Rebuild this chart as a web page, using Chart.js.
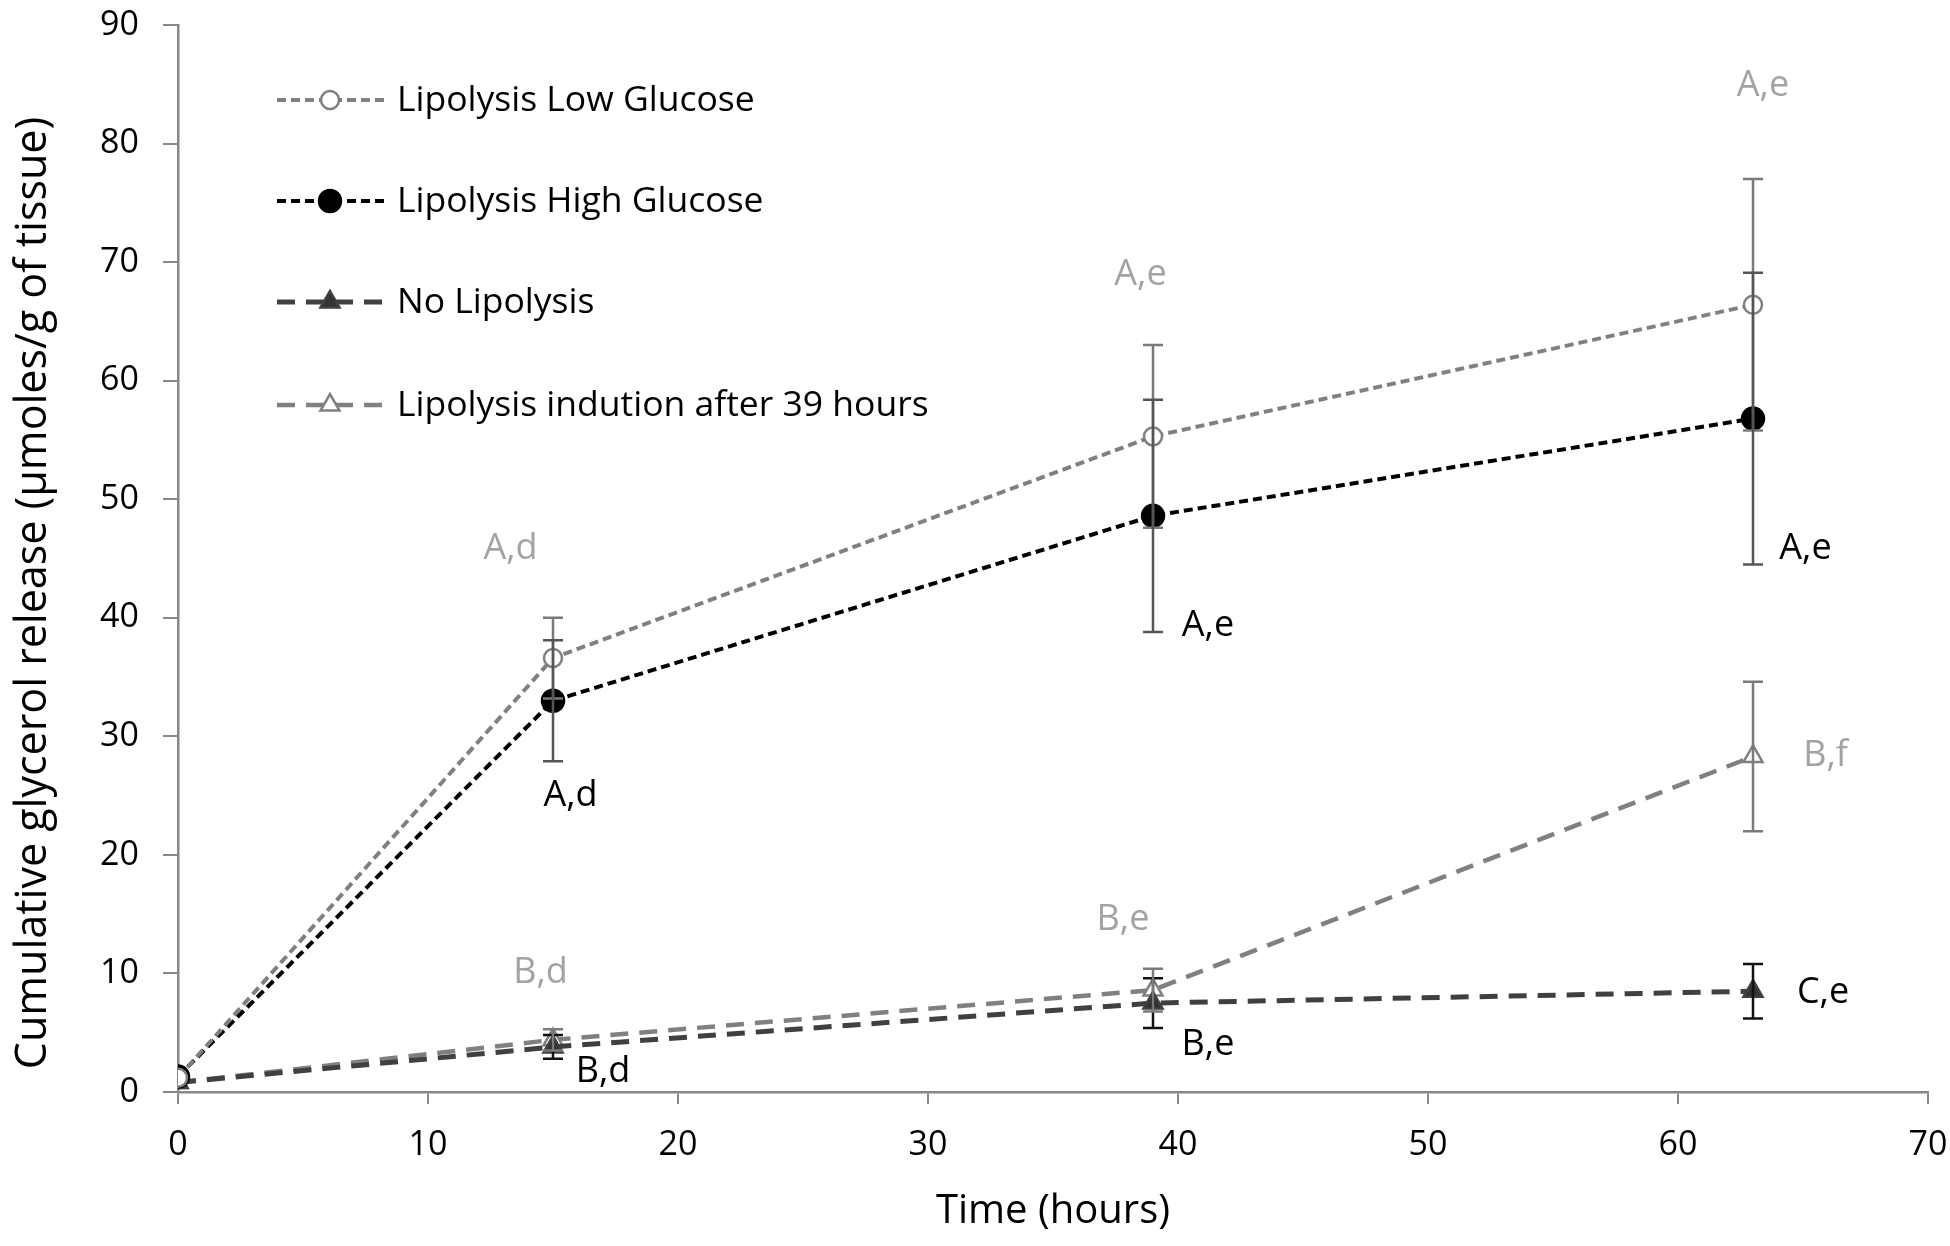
<!DOCTYPE html>
<html>
<head>
<meta charset="utf-8">
<script src="https://cdn.jsdelivr.net/npm/chart.js@4.4.1/dist/chart.umd.min.js"></script>
<style>
  html, body { margin: 0; background: #fff; }
  #wrap { width: 1950px; height: 1246px; }
</style>
</head>
<body>
<div id="wrap"><canvas id="chart"></canvas></div>
<script>
// time points (hours)
const hours = [0, 15, 39, 63];

// cumulative glycerol release, µmoles/g of tissue
const lowGlucose = [1.2, 36.6, 55.3, 66.4];
const lowGlucoseErr = [0, 3.4, 7.7, 10.6];
const highGlucose = [1.3, 33.0, 48.6, 56.8];
const highGlucoseErr = [0, 5.1, 9.8, 12.3];
const noLipolysis = [0.8, 3.8, 7.5, 8.5];
const noLipolysisErr = [0, 1.0, 2.1, 2.3];
const induction39 = [0.8, 4.4, 8.6, 28.3];
const induction39Err = [0, 0.9, 1.8, 6.3];

// significance letters and where they sit (hours, value)
const lowGlucoseTags = ['', 'A,d', 'A,e', 'A,e'];
const lowGlucoseTagAt = [null, [13.3, 45.8], [38.5, 68.9], [63.4, 84.9]];
const highGlucoseTags = ['', 'A,d', 'A,e', 'A,e'];
const highGlucoseTagAt = [null, [15.7, 25.0], [41.2, 39.3], [65.1, 45.8]];
const noLipolysisTags = ['', 'B,d', 'B,e', 'C,e'];
const noLipolysisTagAt = [null, [17.0, 1.7], [41.2, 4.0], [65.8, 8.4]];
const induction39Tags = ['', 'B,d', 'B,e', 'B,f'];
const induction39TagAt = [null, [14.5, 10.1], [37.8, 14.5], [65.9, 28.4]];

const xTicks = [0, 10, 20, 30, 40, 50, 60, 70];
const yTicks = [0, 10, 20, 30, 40, 50, 60, 70, 80, 90];
const yTitle = 'Cumulative glycerol release (µmoles/g of tissue)';

const FONT = "'Open Sans', 'Noto Sans', sans-serif";
const GRAY = '#808080';
const TAG_GRAY = '#a3a3a3';

const series = [
  { label: 'Lipolysis Low Glucose', values: lowGlucose, errs: lowGlucoseErr, tags: lowGlucoseTags, tagAt: lowGlucoseTagAt,
    color: GRAY, dash: [9, 5], width: 4, point: 'circle', radius: 9, fill: '#ffffff', errColor: '#7a7a7a', tagColor: TAG_GRAY },
  { label: 'Lipolysis High Glucose', values: highGlucose, errs: highGlucoseErr, tags: highGlucoseTags, tagAt: highGlucoseTagAt,
    color: '#000000', dash: [9, 5], width: 4, point: 'circle', radius: 11, fill: '#000000', errColor: '#555555', tagColor: '#000' },
  { label: 'No Lipolysis', values: noLipolysis, errs: noLipolysisErr, tags: noLipolysisTags, tagAt: noLipolysisTagAt,
    color: '#404040', dash: [18, 11], width: 5, point: 'triangle', radius: 11, fill: '#333333', errColor: '#111111', tagColor: '#000' },
  { label: 'Lipolysis indution after 39 hours', values: induction39, errs: induction39Err, tags: induction39Tags, tagAt: induction39TagAt,
    color: GRAY, dash: [18, 11], width: 4.5, point: 'triangle', radius: 11, fill: '#ffffff', errColor: '#7a7a7a', tagColor: TAG_GRAY }
];

const datasets = series.map(s => ({
  label: s.label,
  data: hours.map((h, i) => ({ x: h, y: s.values[i] })),
  borderColor: s.color,
  borderDash: s.dash,
  borderWidth: s.width,
  pointStyle: s.point,
  pointRadius: s.radius,
  pointBackgroundColor: s.fill,
  pointBorderColor: s.color,
  pointBorderWidth: 2.5,
  tension: 0,
  fill: false
}));

// error bars + letters
const extras = {
  id: 'extras',
  afterDatasetsDraw(chart) {
    const { ctx, scales: { x, y } } = chart;
    ctx.save();
    series.forEach(s => {
      ctx.strokeStyle = s.errColor;
      ctx.lineWidth = 2.5;
      ctx.setLineDash([]);
      hours.forEach((h, i) => {
        if (!s.errs[i]) return;
        const px = x.getPixelForValue(h);
        const top = y.getPixelForValue(s.values[i] + s.errs[i]);
        const bot = y.getPixelForValue(s.values[i] - s.errs[i]);
        ctx.beginPath();
        ctx.moveTo(px, top); ctx.lineTo(px, bot);
        ctx.moveTo(px - 10, top); ctx.lineTo(px + 10, top);
        ctx.moveTo(px - 10, bot); ctx.lineTo(px + 10, bot);
        ctx.stroke();
      });
    });
    ctx.font = '36px ' + FONT;
    ctx.textAlign = 'center';
    ctx.textBaseline = 'middle';
    series.forEach(s => {
      ctx.fillStyle = s.tagColor;
      s.tags.forEach((t, i) => {
        if (!t) return;
        const [tx, ty] = s.tagAt[i];
        ctx.fillText(t, x.getPixelForValue(tx), y.getPixelForValue(ty));
      });
    });
    ctx.restore();
  }
};

// legend in the Excel style (dashed line, marker in the middle) + y title
const legendBox = {
  id: 'legendBox',
  afterDraw(chart) {
    const { ctx } = chart;
    const rowY = [100, 201, 302, 405];
    ctx.save();
    chart.data.datasets.forEach((ds, i) => {
      const yy = rowY[i];
      ctx.strokeStyle = ds.borderColor;
      ctx.lineWidth = ds.borderWidth;
      ctx.setLineDash(ds.borderDash);
      ctx.beginPath();
      ctx.moveTo(277, yy); ctx.lineTo(388, yy);
      ctx.stroke();
      ctx.setLineDash([]);
      ctx.fillStyle = ds.pointBackgroundColor;
      ctx.strokeStyle = ds.pointBorderColor;
      ctx.lineWidth = ds.pointBorderWidth;
      Chart.helpers.drawPoint(ctx, { pointStyle: ds.pointStyle, radius: ds.pointRadius, borderWidth: ds.pointBorderWidth }, 330, yy);
      ctx.fillStyle = '#000';
      ctx.font = '35.5px ' + FONT;
      ctx.textAlign = 'left';
      ctx.textBaseline = 'middle';
      ctx.fillText(ds.label, 397, yy + 1);
    });

    // y-axis title, centred a bit below the plot middle like the original
    ctx.translate(34, 593);
    ctx.rotate(-Math.PI / 2);
    ctx.font = '43px ' + FONT;
    ctx.fillStyle = '#000';
    ctx.textAlign = 'center';
    ctx.textBaseline = 'middle';
    ctx.fillText(yTitle, 0, 0);
    ctx.restore();
  }
};

new Chart(document.getElementById('chart'), {
  type: 'line',
  data: { datasets },
  plugins: [extras, legendBox],
  options: {
    responsive: true,
    maintainAspectRatio: false,
    animation: false,
    layout: { padding: { top: 25, right: 22, left: 0, bottom: 0 } },
    plugins: { legend: { display: false }, tooltip: { enabled: false } },
    scales: {
      x: {
        type: 'linear',
        min: 0, max: 70,
        afterBuildTicks: sc => { sc.ticks = xTicks.map(v => ({ value: v })); },
        afterFit: sc => { sc.height = 154; sc.paddingLeft = 0; sc.paddingRight = 0; },
        ticks: { color: '#000', font: { family: FONT, size: 34 }, padding: 21 },
        grid: { display: true, drawOnChartArea: false, drawTicks: true, tickLength: 12, color: '#888', lineWidth: 2 },
        border: { display: true, color: '#888', width: 2.5 },
        title: { display: true, text: 'Time (hours)', color: '#000', font: { family: FONT, size: 40 }, padding: { top: 0, bottom: 10 } }
      },
      y: {
        min: 0, max: 90,
        afterBuildTicks: sc => { sc.ticks = yTicks.map(v => ({ value: v })); },
        afterFit: sc => { sc.width = 178; sc.paddingTop = 0; sc.paddingBottom = 0; },
        ticks: { color: '#000', font: { family: FONT, size: 34 }, padding: 24 },
        grid: { display: true, drawOnChartArea: false, drawTicks: true, tickLength: 15, color: '#888', lineWidth: 2 },
        border: { display: true, color: '#888', width: 2.5 },
        title: { display: false }
      }
    }
  }
});
</script>
</body>
</html>
